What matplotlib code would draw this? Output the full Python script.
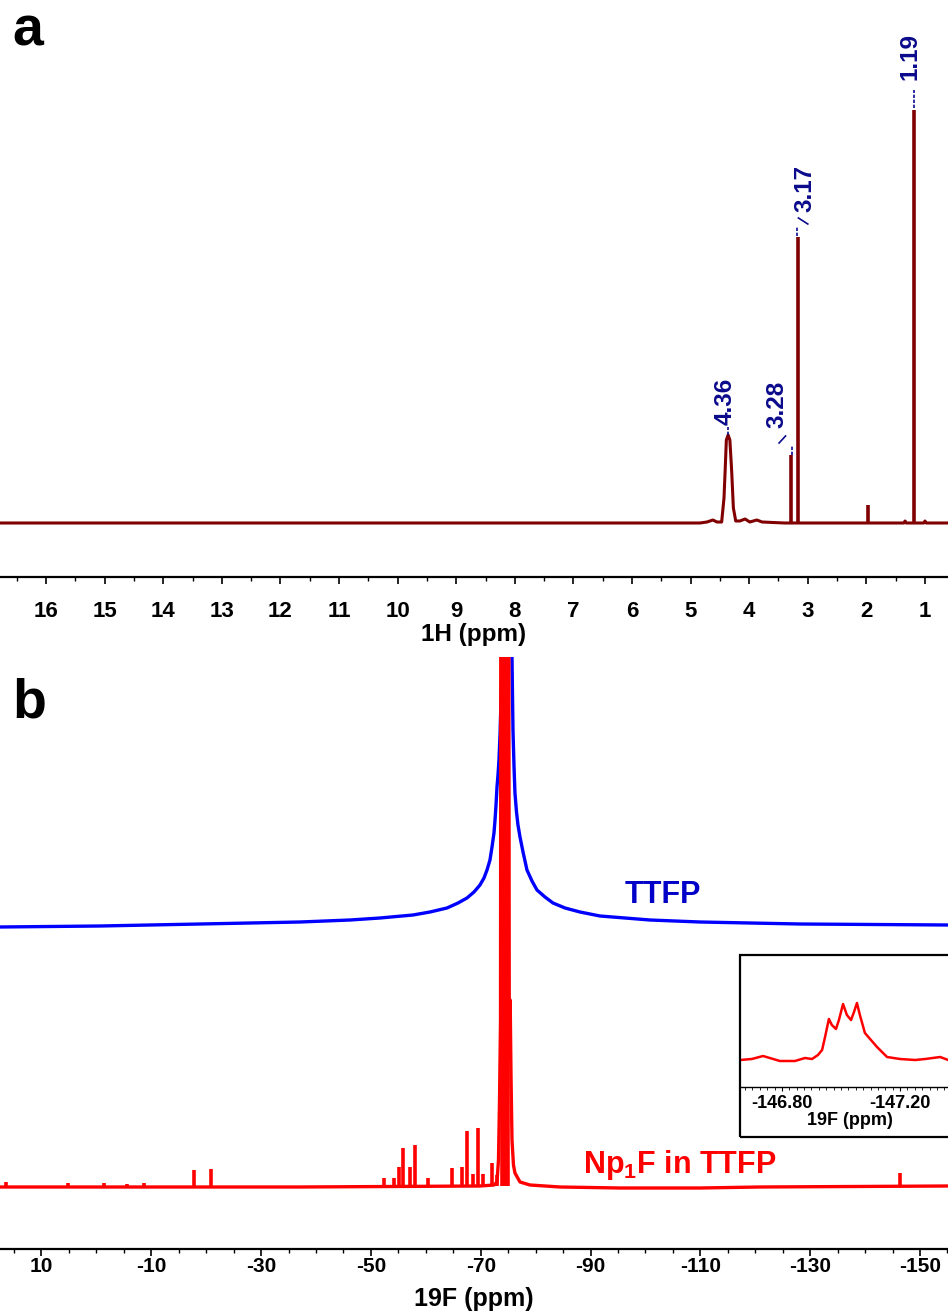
import numpy as np
import matplotlib
matplotlib.use("Agg")
import matplotlib.pyplot as plt
from matplotlib.ticker import MultipleLocator, FixedLocator, FormatStrFormatter
from matplotlib.patches import Rectangle

plt.rcParams['font.family'] = ['Liberation Sans', 'DejaVu Sans']
plt.rcParams['font.weight'] = 'bold'
plt.rcParams['axes.unicode_minus'] = False
plt.rcParams['mathtext.fontset'] = 'custom'
plt.rcParams['mathtext.rm'] = 'Liberation Sans:bold'
plt.rcParams['mathtext.bf'] = 'Liberation Sans:bold'

# ---------------- panel a : 1H spectrum (baseline = 0) ----------------
h1_ppm = [16.785, 8.0, 4.84, 4.72, 4.62, 4.55, 4.47, 4.43, 4.41, 4.39, 4.36,
          4.33, 4.30, 4.27, 4.23, 4.16, 4.07, 3.99, 3.87, 3.78, 3.40, 2.5,
          1.36, 1.34, 1.32, 1.02, 1.00, 0.98, 0.6075]
h1_int = [0, 0, 0, 1, 3, 1, 1, 25, 53, 83, 88,
          83, 53, 15, 2, 2, 4, 1, 3, 1, 0, 0,
          0, 2, 0, 0, 2, 0, 0]
h1_stick_ppm = [3.28, 3.17, 1.98, 1.19]
h1_stick_int = [68, 286, 18, 413]
h1_labels = ['4.36', '3.28', '3.17', '1.19']
h1_label_ppm = [4.41, 3.526, 3.048, 1.256]
h1_label_h = [98, 95, 311, 443]
h1_ticks = list(range(1, 17))

# ---------------- panel b : 19F spectra ----------------
ttfp_offset = 261
ttfp_ppm = [17.56, -0.65, -18.87, -37.08, -46.19, -51.65, -57.66, -60.76,
            -63.85, -65.86, -67.49, -68.77, -69.86, -70.59, -71.14, -71.68,
            -72.05, -72.41, -72.60, -72.78, -72.96, -73.14, -73.32, -73.51,
            -73.69, -73.87, -74.78, -75.69, -75.87, -76.05, -76.23, -76.51,
            -76.78, -77.15, -77.70, -78.42, -79.33, -80.24, -81.70, -83.16,
            -85.35, -88.07, -91.72, -96.27, -100.82, -109.93, -128.14, -155.1]
ttfp_int = [-2, -1, 1, 3, 5, 7, 10, 13,
            17, 22, 27, 33, 40, 47, 55, 65,
            78, 92, 105, 120, 138, 150, 165, 190,
            225, 255, 1000, 268, 195, 160, 132, 113,
            100, 88, 73, 55, 44, 35, 28, 22,
            17, 13, 9, 7, 5, 3, 1, 0]

np1f_ppm = [17.56, -37.08, -69.86, -72.41, -72.96, -73.23, -73.42, -73.60,
            -73.69, -75.05, -75.20, -75.36, -75.51, -75.69, -75.96, -76.23,
            -77.15, -78.97, -84.43, -95.36, -109.93, -120.86, -155.1]
np1f_int = [-1, -1, 0, 1, 4, 26, 86, 166,
            900, 900, 129, 186, 111, 46, 21, 13,
            4, 1, -1, -2, -2, -1, 0]
# off-scale multiplet lines of the main signal
np1f_main_ppm = [-73.8, -74.0, -74.2, -74.4, -74.6, -74.8, -75.0]
np1f_main_int = [900, 900, 900, 900, 900, 900, 900]
np1f_stick_ppm = [16.47, 5.17, -1.38, -5.57, -8.67, -17.78, -20.87, -52.38,
                  -54.20, -55.11, -55.84, -57.12, -58.03, -60.40, -64.77,
                  -66.59, -67.50, -68.59, -69.50, -70.41, -72.05, -72.96,
                  -146.36]
np1f_stick_int = [4, 3, 3, 2, 3, 16, 17, 8,
                  8, 19, 38, 19, 41, 8, 18,
                  19, 55, 12, 58, 12, 23, 11,
                  13]
f_ticks = [10, -10, -30, -50, -70, -90, -110, -130, -150]

# inset : zoom of the -147 ppm multiplet
inset_ppm = [-146.658, -146.698, -146.736, -146.759, -146.793, -146.844,
             -146.878, -146.902, -146.922, -146.936, -146.946, -146.959,
             -146.969, -146.983, -146.993, -147.007, -147.020, -147.034,
             -147.044, -147.054, -147.064, -147.081, -147.122, -147.156,
             -147.200, -147.251, -147.285, -147.336, -147.363, -147.403]
inset_int = [0, 1, 4, 2, -1, -1,
             2, 1, 5, 10, 23, 41,
             35, 31, 40, 56, 45, 40,
             48, 57, 45, 27, 13, 3,
             1, 0, 1, 3, 0, 0]
inset_ticks = [-146.80, -147.20]

W, H = 948, 1316


def fy(px):
    return 1 - px / H


fig = plt.figure(figsize=(W / 100, H / 100), dpi=100)


def style_axis(ax, pad, lsize):
    for s in ['top', 'left', 'right']:
        ax.spines[s].set_visible(False)
    ax.spines['bottom'].set_linewidth(1.6)
    ax.set_yticks([])
    ax.tick_params(axis='x', which='major', direction='out', length=5, width=1.2,
                   pad=pad, labelsize=lsize)
    ax.tick_params(axis='x', which='minor', direction='out', length=3, width=1.0)
    ax.patch.set_alpha(0)


# ---- panel a
ax1 = fig.add_axes([0, fy(577), 1, (577 - 30) / H])
ax1.set_xlim(16.785, 0.6075)
ax1.set_ylim(-54, 493)
ax1.plot(h1_ppm, h1_int, color='#800000', lw=2.2, solid_joinstyle='round')
ax1.vlines(h1_stick_ppm, 0, h1_stick_int, color='#800000', lw=2.6)
style_axis(ax1, 12, 16)
ax1.xaxis.set_major_locator(FixedLocator(h1_ticks))
ax1.xaxis.set_major_formatter(FormatStrFormatter('%d'))
ax1.xaxis.set_minor_locator(MultipleLocator(0.5))
ax1.set_xlabel('1H (ppm)', fontsize=17.5, fontweight='bold', labelpad=1)

navy = '#0a0a8c'
for lab, x, y in zip(h1_labels, h1_label_ppm, h1_label_h):
    ax1.text(x, y, lab, rotation=90, ha='center', va='bottom', color=navy,
             fontsize=17.5, fontweight='bold')
# connector marks from peaks to labels
ax1.plot([4.36, 4.36], [88, 96], color=navy, lw=1.2, ls=(0, (2, 1)))
ax1.plot([3.27, 3.27], [68, 78], color=navy, lw=1.2, ls=(0, (2, 1)))
ax1.plot([3.49, 3.38], [80, 87], color=navy, lw=1.2)
ax1.plot([3.18, 3.18], [287, 297], color=navy, lw=1.2, ls=(0, (2, 1)))
ax1.plot([3.16, 3.00], [305, 299], color=navy, lw=1.2)
ax1.plot([1.19, 1.19], [415, 433], color=navy, lw=1.2, ls=(0, (2, 1)))

# ---- panel b
ax2 = fig.add_axes([0, fy(1249), 1, (1249 - 657) / H])
ax2.set_xlim(17.558, -155.10)
ax2.set_ylim(-63, 529)
ax2.plot(ttfp_ppm, np.array(ttfp_int) + ttfp_offset, color='#0000ff', lw=2.4)
ax2.plot(np1f_ppm, np1f_int, color='#ff0000', lw=2.4)
ax2.vlines(np1f_main_ppm, 0, np1f_main_int, color='#ff0000', lw=2.6)
ax2.vlines(np1f_stick_ppm, 0, np1f_stick_int, color='#ff0000', lw=2.6)
style_axis(ax2, 1, 15)
ax2.xaxis.set_major_locator(FixedLocator(f_ticks))
ax2.xaxis.set_major_formatter(FormatStrFormatter('%d'))
ax2.xaxis.set_minor_locator(MultipleLocator(5))
ax2.set_xlabel('19F (ppm)', fontsize=18, fontweight='bold', labelpad=8)
ax2.text(-96.27, 283, 'TTFP', color='#0000c8', fontsize=22, fontweight='bold',
         ha='left', va='baseline')
ax2.text(-88.62, 13, r'Np$_\mathbf{1}$F in TTFP', color='#ff0000', fontsize=22,
         fontweight='bold', ha='left', va='baseline')

# ---- inset
fig.patches.append(Rectangle((740 / W, fy(1137)), 0.4, (1137 - 955) / H,
                             transform=fig.transFigure, fill=False,
                             edgecolor='black', lw=1.6, zorder=5))
ax3 = fig.add_axes([740 / W, fy(1087), 220 / W, (1087 - 958) / H])
ax3.set_xlim(-146.658, -147.403)
ax3.set_ylim(-27, 102)
ax3.plot(inset_ppm, inset_int, color='#ff0000', lw=1.8)
style_axis(ax3, 3, 13)
ax3.spines['bottom'].set_linewidth(1.0)
ax3.tick_params(axis='x', which='major', length=3, width=0.8)
ax3.tick_params(axis='x', which='minor', length=2, width=0.6)
ax3.xaxis.set_major_locator(FixedLocator(inset_ticks))
ax3.xaxis.set_major_formatter(FormatStrFormatter('%.2f'))
ax3.xaxis.set_minor_locator(MultipleLocator(0.025))
ax3.set_xlabel('19F (ppm)', fontsize=13, fontweight='bold', labelpad=0)

# panel letters
fig.text(12 / W, fy(45), 'a', fontsize=40, fontweight='bold', va='baseline')
fig.text(12 / W, fy(718), 'b', fontsize=40, fontweight='bold', va='baseline')

fig.savefig('out.png', dpi=100)
